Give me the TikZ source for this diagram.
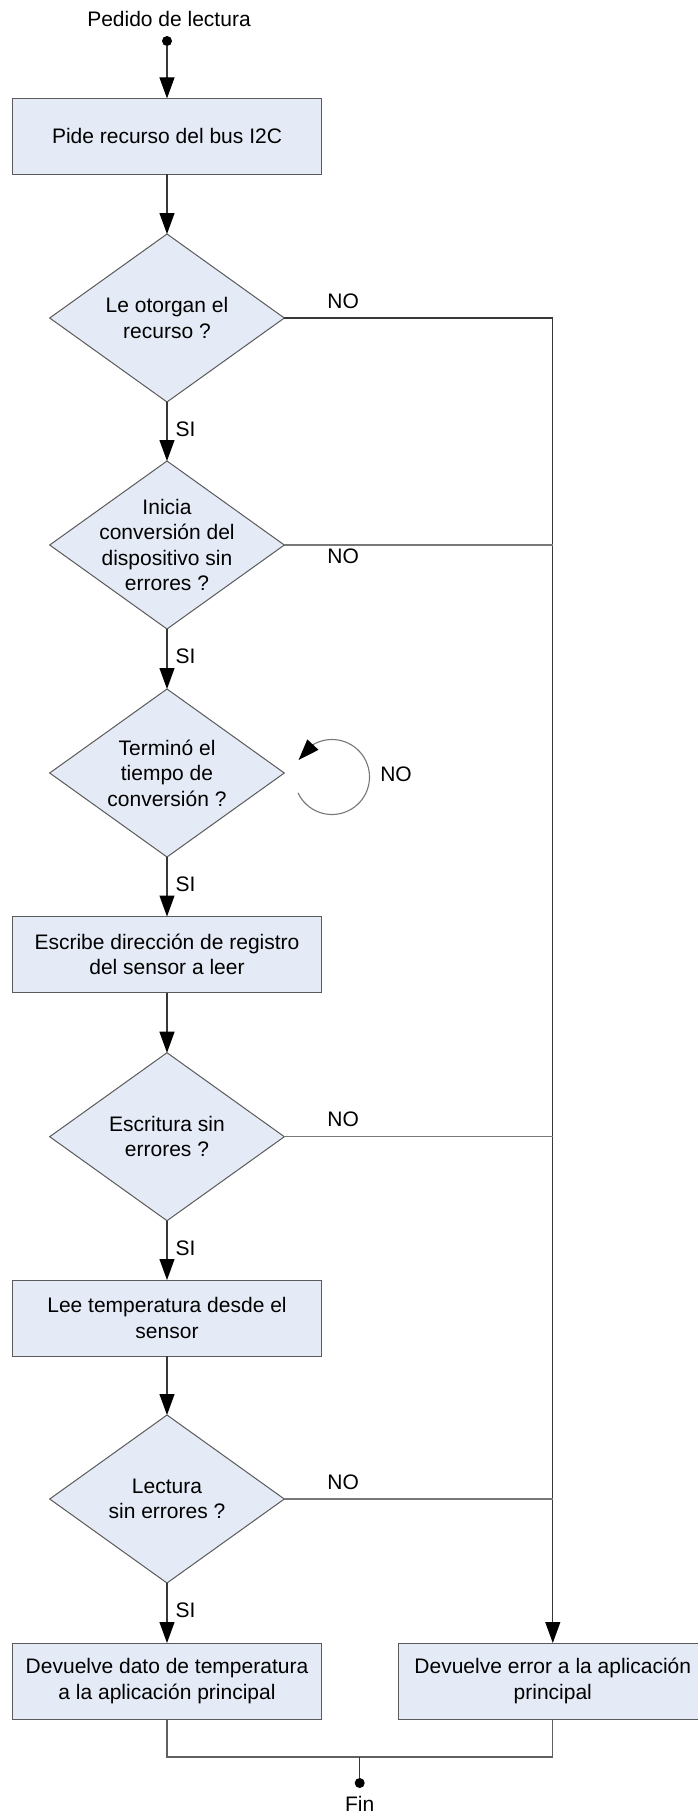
\documentclass[tikz,border=0pt]{standalone}
\usepackage{fontspec}
\setmainfont{Liberation Sans}
\usetikzlibrary{shapes.geometric,arrows.meta,bending,calc}

\definecolor{boxfill}{RGB}{229,235,246}
\definecolor{boxline}{RGB}{90,90,90}
\definecolor{wire}{RGB}{55,55,55}
\definecolor{wirelight}{RGB}{120,120,120}

\begin{document}
\begin{tikzpicture}[x=1pt,y=1pt,
  txt/.style={font=\fontsize{21}{25.5}\selectfont, align=center, inner sep=0pt},
  proc/.style={rectangle, draw=boxline, fill=boxfill, line width=1pt,
    minimum width=309pt, minimum height=76pt, inner sep=0pt, outer sep=0pt, txt},
  decision/.style={diamond, draw=boxline, fill=boxfill, line width=1pt,
    minimum width=234.6pt, minimum height=168pt, inner sep=0pt, outer sep=0pt},
  terminal/.style={circle, fill=black, inner sep=0pt, minimum size=10pt, outer sep=0pt},
  flow/.style={draw=wire, line width=1.1pt,
    -{Triangle[length=21pt,width=15pt,color=black]}},
  wireline/.style={draw=wirelight, line width=1.1pt},
  tag/.style={font=\fontsize{21}{25.5}\selectfont, inner sep=0pt},
  yes/.style={tag, anchor=west, xshift=8pt, yshift=2.5pt},
]
\useasboundingbox (0,0) rectangle (697,-1812);

% start
\node[tag] (pedido) at (169,-19) {Pedido de lectura};
\node[terminal] (ini) at (167,-41) {};

% main column
\node[proc] (b1) at (167,-136.4) {Pide recurso del bus I2C};

\node[decision] (d1) at (167,-318) {};
\node[txt] (d1t) at (d1) {Le otorgan el\\recurso ?};

\node[decision] (d2) at (167,-545) {};
\node[txt] (d2t) at (d2) {Inicia\\conversión del\\dispositivo sin\\errores ?};

\node[decision] (d3) at (167,-773) {};
\node[txt] (d3t) at (d3) {Terminó el\\tiempo de\\conversión ?};

\node[proc] (b3) at (167,-954.5) {Escribe dirección de registro\\del sensor a leer};

\node[decision] (d4) at (167,-1136.7) {};
\node[txt] (d4t) at (d4) {Escritura sin\\errores ?};

\node[proc] (b5) at (167,-1318) {Lee temperatura desde el\\sensor};

\node[decision] (d6) at (167,-1499) {};
\node[txt] (d6t) at (d6) {Lectura\\sin errores ?};

\node[proc] (ok) at (167,-1681) {Devuelve dato de temperatura\\a la aplicación principal};
\node[proc] (err) at (552.8,-1681) {Devuelve error a la aplicación\\principal};

% main flow
\draw[flow] (ini.south) -- (b1.north);
\draw[flow] (b1.south) -- (d1.north);
\draw[flow] (d1.south) -- node[yes] {SI} (d2.north);
\draw[flow] (d2.south) -- node[yes] {SI} (d3.north);
\draw[flow] (d3.south) -- node[yes] {SI} (b3.north);
\draw[flow] (b3.south) -- (d4.north);
\draw[flow] (d4.south) -- node[yes] {SI} (b5.north);
\draw[flow] (b5.south) -- (d6.north);
\draw[flow] (d6.south) -- node[yes] {SI} (ok.north);

% error branch
\draw[flow] (d1.east) -- node[tag, pos=0.219, yshift=17pt] {NO} (d1.east -| err.north) -- (err.north);
\draw[wireline] (d2.east) -- node[tag, pos=0.219, yshift=-11pt] {NO} (d2.east -| err.north);
\draw[wireline] (d4.east) -- node[tag, pos=0.219, yshift=17pt] {NO} (d4.east -| err.north);
\draw[wireline] (d6.east) -- node[tag, pos=0.219, yshift=16.5pt] {NO} (d6.east -| err.north);

% waiting loop
\coordinate (loopc) at (332,-777);
\draw[flow, draw=wirelight] ([shift={(-155:37.5pt)}]loopc) arc[start angle=-155, end angle=153, radius=37.5pt];
\node[tag] (loopno) at (396,-774) {NO};

% end
\coordinate (merge) at (359.7,-1757);
\draw[draw=wirelight!80!black, line width=1.1pt] (ok.south) |- (merge) -| (err.south);
\node[terminal] (fin) at (359.7,-1783) {};
\draw[draw=wire, line width=1.1pt] (merge) -- (fin.north);
\node[tag, anchor=base] (fintxt) at (359.7,-1811) {Fin};
\end{tikzpicture}
\end{document}
